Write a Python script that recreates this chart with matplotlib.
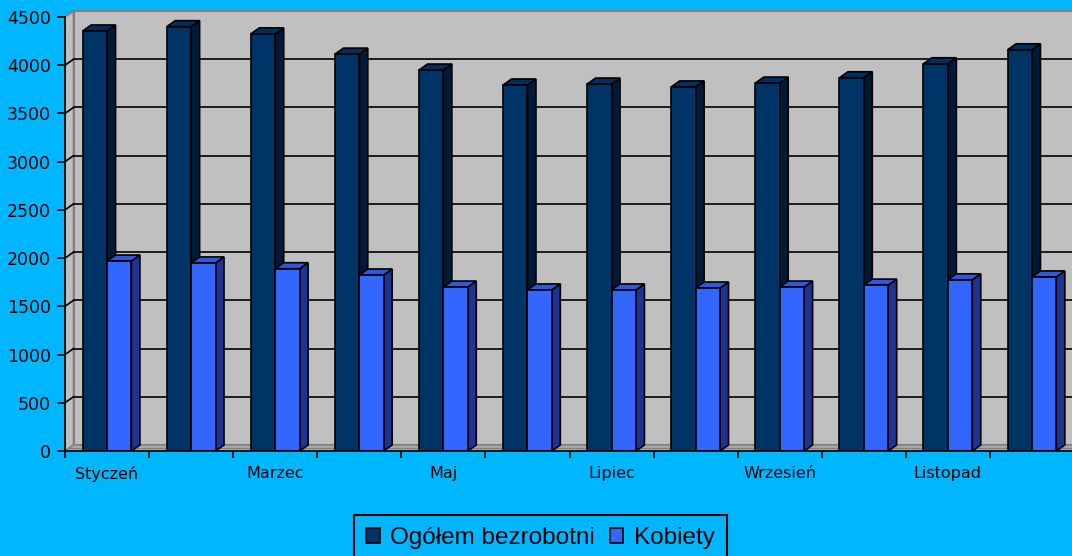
import matplotlib
matplotlib.use("Agg")
import matplotlib.pyplot as plt
from matplotlib.patches import Polygon, Rectangle
from matplotlib.transforms import Affine2D, IdentityTransform
import numpy as np

# ---- data ----
months = ["Styczeń", "Luty", "Marzec", "Kwiecień", "Maj", "Czerwiec",
          "Lipiec", "Sierpień", "Wrzesień", "Październik", "Listopad", "Grudzień"]
ogolem = [4355, 4400, 4325, 4115, 3950, 3795, 3805, 3775, 3815, 3870, 4015, 4160]
kobiety = [1970, 1950, 1890, 1825, 1700, 1670, 1670, 1690, 1700, 1720, 1775, 1805]
series_names = ["Ogółem bezrobotni", "Kobiety"]
yticks = list(range(0, 4501, 500))

# ---- style ----
BG = "#00B6FF"
WALL = "#C0C0C0"
FLOOR = "#A9A9A9"
EDGE_GRAY = "#808080"
DARK = ("#003366", "#001A38", "#002E5E")     # front, side, top
LIGHT = ("#3366FF", "#1E3494", "#2E58DD")
DX, DY = 8.5, 6.0   # depth offset in pixels

W, H = 1072, 556
fig = plt.figure(figsize=(W / 100, H / 100), dpi=100)
fig.patch.set_facecolor(BG)
ax = fig.add_axes([65 / W, (H - 451) / H, (1074 - 65) / W, (451 - 17) / H])
ax.set_xlim(-0.5, 11.5)
ax.set_ylim(0, 4500)
ax.patch.set_visible(False)
for s in ["top", "right"]:
    ax.spines[s].set_visible(False)
for s in ["left", "bottom"]:
    ax.spines[s].set_color("black")
    ax.spines[s].set_linewidth(1.2)
    ax.spines[s].set_zorder(50)

off = ax.transData + Affine2D().translate(DX, DY)
d = np.array([DX, DY])
T = ax.transData.transform
xmin, xmax = ax.get_xlim()
ymax = ax.get_ylim()[1]

# back wall
ax.add_patch(Rectangle((xmin, 0), xmax - xmin, ymax, transform=off,
                       facecolor=WALL, edgecolor=EDGE_GRAY, lw=1.5,
                       zorder=0, clip_on=False))
# left wall
p0, p1 = T((xmin, 0)), T((xmin, ymax))
ax.add_patch(Polygon([p0, p1, p1 + d, p0 + d], closed=True, transform=IdentityTransform(),
                     facecolor=WALL, edgecolor=EDGE_GRAY, lw=1.2, zorder=0.5, clip_on=False))
# gridlines on back wall + left wall
for v in yticks[1:-1]:
    ax.plot([xmin, xmax], [v, v], transform=off, color="black", lw=1.2,
            zorder=1, clip_on=False)
    a = T((xmin, v))
    ax.plot([a[0], a[0] + DX], [a[1], a[1] + DY], transform=IdentityTransform(),
            color="black", lw=1.2, zorder=1, clip_on=False)
# floor
f0, f1 = T((xmin, 0)), T((xmax, 0))
ax.add_patch(Polygon([f0, f1, f1 + d, f0 + d], closed=True, transform=IdentityTransform(),
                     facecolor=FLOOR, edgecolor=EDGE_GRAY, lw=1.0, zorder=1.5, clip_on=False))
ax.plot([f0[0] + DX / 2, f1[0]], [f0[1] + DY / 2, f1[1] + DY / 2],
        transform=IdentityTransform(), color=EDGE_GRAY, lw=0.8, zorder=1.6, clip_on=False)

# bars
x = np.arange(len(months))
bw = 0.29
k = 0
for i in range(len(months)):
    for vals, cols, shift in ((ogolem, DARK, -0.145), (kobiety, LIGHT, 0.145)):
        z = 3 + k * 0.01
        k += 1
        cx = x[i] + shift
        bar = ax.bar(cx, vals[i], width=bw, color=cols[0], edgecolor="black",
                     lw=1.2, zorder=z + 0.002)[0]
        x0, x1 = cx - bw / 2, cx + bw / 2
        bl, br = T((x0, 0)), T((x1, 0))
        tl, tr = T((x0, vals[i])), T((x1, vals[i]))
        ax.add_patch(Polygon([br, tr, tr + d, br + d], closed=True,
                             transform=IdentityTransform(), facecolor=cols[1],
                             edgecolor="black", lw=1.2, zorder=z, clip_on=False))
        ax.add_patch(Polygon([tl, tr, tr + d, tl + d], closed=True,
                             transform=IdentityTransform(), facecolor=cols[2],
                             edgecolor="black", lw=1.2, zorder=z + 0.001, clip_on=False))

# ticks
ax.set_yticks(yticks)
ax.set_yticklabels([str(v) for v in yticks], fontsize=12.5, family="DejaVu Sans")
ax.tick_params(axis="y", direction="out", length=6, width=1.2, pad=4, colors="black")
ax.set_xticks(np.arange(-0.5, 12, 1))
ax.set_xticklabels([])
ax.tick_params(axis="x", which="major", direction="out", length=5, width=1.2)
ax.set_xticks(x, minor=True)
ax.set_xticklabels([m if i % 2 == 0 else "" for i, m in enumerate(months)],
                   minor=True, fontsize=11.5, family="DejaVu Sans")
ax.tick_params(axis="x", which="minor", length=0, pad=11)

# legend
handles = [Rectangle((0, 0), 1, 1, facecolor=DARK[0], edgecolor="black", lw=1.2),
           Rectangle((0, 0), 1, 1, facecolor=LIGHT[0], edgecolor="black", lw=1.2)]
leg = fig.legend(handles, series_names, loc="upper left",
                 bbox_to_anchor=(354 / W, 1 - 515 / H), ncol=2, frameon=True,
                 fancybox=False, facecolor=BG, edgecolor="black", framealpha=1,
                 prop={"family": "Liberation Sans", "size": 17.5},
                 borderaxespad=0, borderpad=0.5, handlelength=0.55, handleheight=0.55,
                 handletextpad=0.45, columnspacing=0.6)
leg.get_frame().set_linewidth(1.5)

fig.savefig("out.png", dpi=100, facecolor=BG)
